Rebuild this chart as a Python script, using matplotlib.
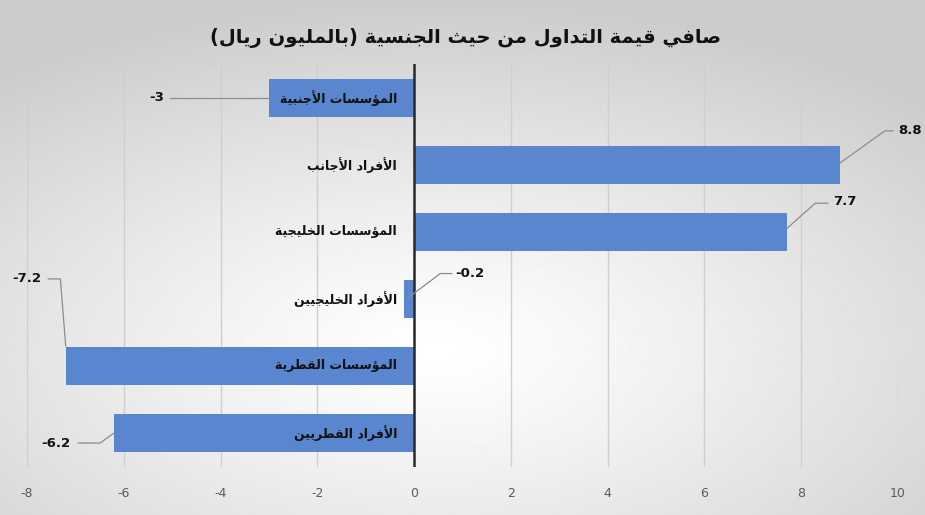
import numpy as np
import matplotlib
matplotlib.use("Agg")
import matplotlib.pyplot as plt
import matplotlib.transforms as mtransforms

# data (top to bottom as shown)
categories = ["المؤسسات الأجنبية", "الأفراد الأجانب", "المؤسسات الخليجية",
              "الأفراد الخليجيين", "المؤسسات القطرية", "الأفراد القطريين"]
values = [-3, 8.8, 7.7, -0.2, -7.2, -6.2]
title = "صافي قيمة التداول من حيث الجنسية (بالمليون ريال)"
xticks = [-8, -6, -4, -2, 0, 2, 4, 6, 8, 10]

# data label spots (data coords) and leader lines: start -> elbow -> bar end
label_pos = [(-5.31, 0.0), (10.25, 0.49), (8.9, 1.55), (1.16, 2.62), (-8.0, 2.70), (-7.40, 5.15)]
leader_start = [(-5.04, 0.0), (9.9, 0.49), (8.55, 1.57), (0.78, 2.62), (-7.56, 2.70), (-6.94, 5.15)]
elbow_pos = [(-4.5, 0.0), (9.73, 0.49), (8.29, 1.57), (0.54, 2.62), (-7.31, 2.70), (-6.49, 5.15)]
leader_end = [(-3, 0.0), (8.8, 0.97), (7.7, 1.95), (-0.12, 2.98), (-7.2, 3.7), (-6.2, 5.0)]


# --- tiny arabic shaper: presentation forms + visual order (no bidi lib here)
FORMS = {'ا': (0xFE8D, 2), 'أ': (0xFE83, 2), 'ؤ': (0xFE85, 2), 'ة': (0xFE93, 2),
         'د': (0xFEA9, 2), 'ر': (0xFEAD, 2), 'و': (0xFEED, 2),
         'ب': (0xFE8F, 4), 'ت': (0xFE95, 4), 'ث': (0xFE99, 4), 'ج': (0xFE9D, 4),
         'ح': (0xFEA1, 4), 'خ': (0xFEA5, 4), 'س': (0xFEB1, 4), 'ص': (0xFEB9, 4),
         'ط': (0xFEC1, 4), 'ف': (0xFED1, 4), 'ق': (0xFED5, 4), 'ل': (0xFEDD, 4),
         'م': (0xFEE1, 4), 'ن': (0xFEE5, 4), 'ي': (0xFEF1, 4)}
LAM_ALEF = {'ا': 0xFEFB, 'أ': 0xFEF7}


def shape(text):
    toks = []
    i = 0
    while i < len(text):
        if text[i] == 'ل' and i + 1 < len(text) and text[i + 1] in LAM_ALEF:
            toks.append(('ل', text[i + 1]))
            i += 2
        else:
            toks.append((text[i], None))
            i += 1

    def jt(t):
        if t[1]:
            return 'R'
        if t[0] in FORMS:
            return 'D' if FORMS[t[0]][1] == 4 else 'R'
        return 'N'

    out = []
    for k, t in enumerate(toks):
        j = jt(t)
        if j == 'N':
            out.append(t[0])
            continue
        prev = jt(toks[k - 1]) if k > 0 else 'N'
        nxt = jt(toks[k + 1]) if k + 1 < len(toks) else 'N'
        jp = prev == 'D'
        jn = j == 'D' and nxt != 'N'
        base = LAM_ALEF[t[1]] if t[1] else FORMS[t[0]][0]
        if jp and jn:
            g = base + 3
        elif jn:
            g = base + 2
        elif jp:
            g = base + 1
        else:
            g = base
        out.append(chr(g))
    s = ''.join(out)[::-1]
    return s.translate(str.maketrans('()', ')('))


plt.rcParams['axes.unicode_minus'] = False
fig = plt.figure(figsize=(9.25, 5.15), dpi=100)

# radial grey background
bg = fig.add_axes([0, 0, 1, 1], zorder=-10)
yy, xx = np.mgrid[0:1:300j, 0:1:500j]
r = np.sqrt((xx - 0.47) ** 2 + ((yy - 0.68) * 1.1) ** 2)
shade = 1.0 - 0.2 * np.clip(r / 0.75, 0, 1) ** 1.2
bg.imshow(shade, cmap='gray', vmin=0, vmax=1, aspect='auto', extent=[0, 1, 1, 0])
bg.axis('off')

ax = fig.add_axes([27 / 925, 1 - 466.5 / 515, 871 / 925, 402 / 515])
ax.set_facecolor('none')

y = np.arange(len(categories))
ax.barh(y, values, height=0.58, color='#5a86cf', zorder=2)
ax.set_xlim(-8, 10)
ax.set_ylim(len(categories) - 0.5, -0.5)
ax.set_xticks(xticks)
ax.set_yticks([])
ax.grid(axis='x', color='#cfcfcf', lw=1, zorder=0)
ax.axvline(0, color='#2a2a2a', lw=1.8, zorder=3)
for s in ax.spines.values():
    s.set_visible(False)
ax.tick_params(axis='x', length=0, pad=15, labelsize=9, labelcolor='#5a5a5a')

# category names next to the zero line
off = mtransforms.offset_copy(ax.transData, fig=fig, x=-17, y=0, units='dots')
for i, c in enumerate(categories):
    ax.text(0, i, shape(c), transform=off, ha='right', va='center',
            fontsize=9, fontweight='bold', color='#111111', zorder=4)

# data labels with leader lines
for v, lp, st, el, en in zip(values, label_pos, leader_start, elbow_pos, leader_end):
    ax.plot([st[0], el[0], en[0]], [st[1], el[1], en[1]],
            color='#8c8c8c', lw=0.9, zorder=4, clip_on=False)
    ax.text(lp[0], lp[1], f"{v:g}", ha='center', va='center', fontsize=9.5,
            fontweight='bold', color='#111111', clip_on=False, zorder=5)

fig.text(0.503, 1 - 38 / 515, shape(title), ha='center', va='center',
         fontsize=14, fontweight='bold', color='#111111')

fig.savefig('out.png', dpi=100)
